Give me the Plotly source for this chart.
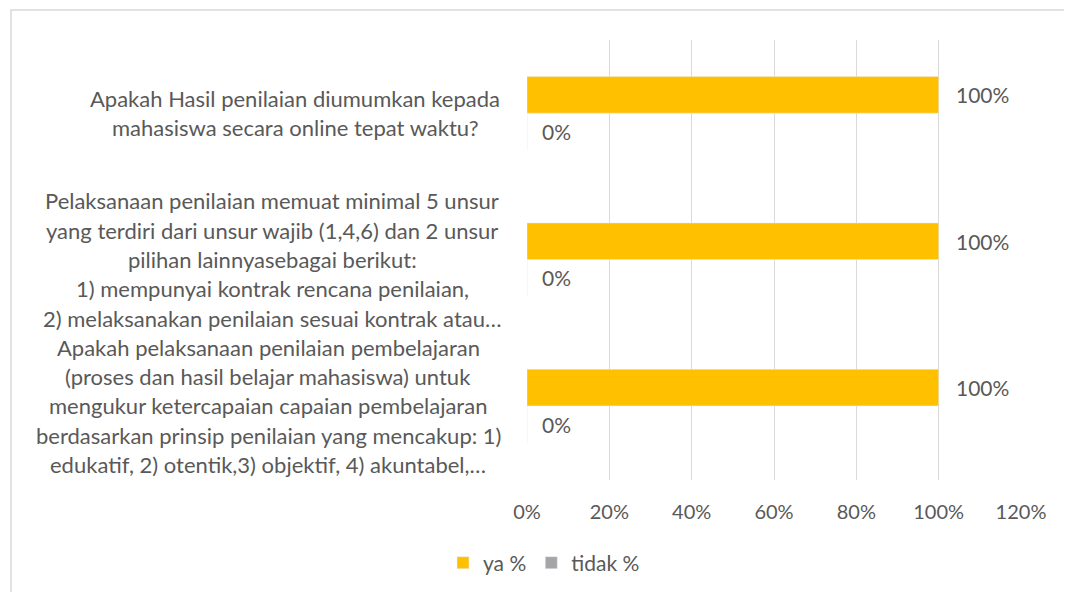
import plotly.graph_objects as go

# ---- data (top to bottom) ----
categories = ["Q_hasil", "Q_pelaksanaan_unsur", "Q_prinsip"]
category_lines = [
    ["Apakah Hasil penilaian diumumkan kepada",
     "mahasiswa secara online tepat waktu?"],
    ["Pelaksanaan penilaian memuat minimal 5 unsur",
     "yang terdiri dari unsur wajib (1,4,6) dan 2 unsur",
     "pilihan lainnyasebagai berikut:",
     "1) mempunyai kontrak rencana penilaian,",
     "2) melaksanakan penilaian sesuai kontrak atau…"],
    ["Apakah pelaksanaan penilaian pembelajaran",
     "(proses dan hasil belajar mahasiswa) untuk",
     "mengukur ketercapaian capaian pembelajaran",
     "berdasarkan prinsip penilaian yang mencakup: 1)",
     "edukatif, 2) otentik,3) objektif, 4) akuntabel,…"],
]
ya_values = [1.0, 1.0, 1.0]
tidak_values = [0.0, 0.0, 0.0]
series_names = ["ya %", "tidak %"]
x_ticks = [0, 0.2, 0.4, 0.6, 0.8, 1.0, 1.2]
x_tick_labels = ["0%", "20%", "40%", "60%", "80%", "100%", "120%"]

# ---- style ----
FONT = "Lato"
TXT = "#595959"
YA_COLOR = "#FFC000"
TIDAK_COLOR = "#A5A5A5"
GRID = "#D9D9D9"
FS = 20       # axis ticks
FS_DL = 21    # data labels / legend
FS_CAT = 22   # category labels

# page has an 8px body margin, so figure is 8px smaller and shifted
W, H = 1064, 584
L, R, T, B = 519, 51, 32, 112
plot_w = W - L - R
plot_h = H - T - B

fig = go.Figure()
fig.add_trace(go.Bar(y=categories, x=ya_values, orientation="h", name=series_names[0],
                     marker_color=YA_COLOR, hoverinfo="skip"))
fig.add_trace(go.Bar(y=categories, x=tidak_values, orientation="h", name=series_names[1],
                     marker_color=TIDAK_COLOR, hoverinfo="skip"))

annotations = []
# data labels
for i in range(len(categories)):
    annotations.append(dict(x=ya_values[i], y=i - 0.125, xref="x", yref="y",
                            text=f"{ya_values[i]:.0%}", showarrow=False,
                            xanchor="left", xshift=15,
                            font=dict(family=FONT, size=FS_DL, color=TXT)))
    annotations.append(dict(x=tidak_values[i], y=i + 0.125, xref="x", yref="y",
                            text=f"{tidak_values[i]:.0%}", showarrow=False,
                            xanchor="left", xshift=13,
                            font=dict(family=FONT, size=FS_DL, color=TXT)))

# category labels (centered multi-line blocks)
block_centers_px = [287, 264, 260]
line_h = 29.3
for i, lines in enumerate(category_lines):
    n = len(lines)
    xc = (block_centers_px[i] - L) / plot_w
    for j, line in enumerate(lines):
        annotations.append(dict(x=xc, y=i, xref="x domain", yref="y",
                                text=line, showarrow=False, xanchor="center",
                                yshift=((n - 1) / 2 - j) * line_h,
                                font=dict(family=FONT, size=FS_CAT, color=TXT)))

fig.update_layout(
    width=W, height=H,
    margin=dict(l=L, r=R, t=T, b=B),
    barmode="group", bargap=0.5, bargroupgap=0,
    plot_bgcolor="white", paper_bgcolor="white",
    font=dict(family=FONT, size=FS, color=TXT),
    xaxis=dict(range=[0, 1.2], tickvals=x_ticks, ticktext=x_tick_labels,
               showgrid=True, gridcolor=GRID, gridwidth=1, zeroline=False,
               showline=False, ticks="", ticklabelstandoff=18,
               tickfont=dict(family=FONT, size=FS, color=TXT)),
    yaxis=dict(autorange="reversed", showticklabels=False, showgrid=False,
               zeroline=False, showline=False, ticks=""),
    legend=dict(orientation="h", xref="container", yref="container",
                x=(544 - 8) / W, y=1 - (563 - 8) / H, xanchor="center", yanchor="middle",
                font=dict(family=FONT, size=FS_DL, color=TXT), traceorder="normal"),
    annotations=annotations,
    shapes=[dict(type="rect", xref="paper", yref="paper",
                 x0=(3 - L) / plot_w, x1=1.3,
                 y0=-0.5, y1=(H - B - 2) / plot_h,
                 line=dict(color=GRID, width=1.5), fillcolor="rgba(0,0,0,0)",
                 layer="below")],
)

fig.write_html("out.html")
